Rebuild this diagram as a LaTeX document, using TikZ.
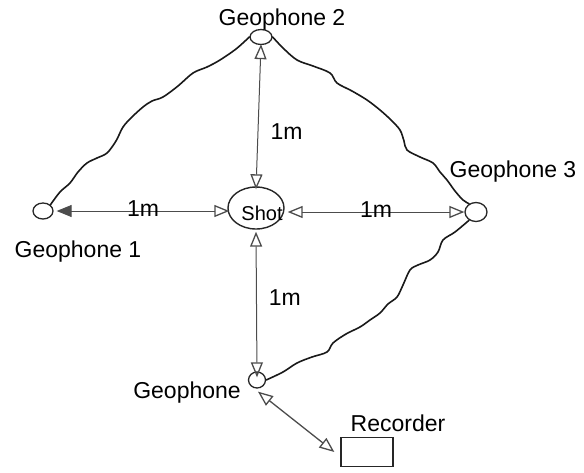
\documentclass[tikz,border=0pt]{standalone}
\usepackage{fontspec}
\setmainfont{Liberation Sans}
\usetikzlibrary{shapes.geometric,arrows.meta}

\begin{document}
\begin{tikzpicture}[x=1pt,y=-1pt,
  lbl/.style={font=\fontsize{23}{25}\selectfont, inner sep=0pt},
  phone/.style={draw=black!85, line width=1.3pt, ellipse, minimum width=20pt, minimum height=16pt, inner sep=0pt},
  shotnode/.style={draw=black!85, line width=1.4pt, ellipse, minimum width=56pt, minimum height=42pt, inner sep=0pt},
  dist/.style={draw=black!70, line width=1pt},
  otip/.tip={Triangle[open, length=15pt, width=12pt, line width=1.3pt]},
  ftip/.tip={Triangle[length=15pt, width=12pt]},
  cable/.style={draw=black!90, line width=1.6pt, line cap=round, line join=round},
]
\useasboundingbox (0,0) rectangle (584,472);

% receivers, source and recorder
\node[shotnode] (shot) at (256,208) {};
\node[lbl, font=\fontsize{20}{22}\selectfont] at (262,213) {Shot};
\node[phone] (g1) at (43,211) {};
\node[phone, minimum width=22pt, minimum height=15pt] (g2) at (261,37) {};
\node[phone, minimum width=22pt, minimum height=19pt] (g3) at (476,212) {};
\node[phone, minimum width=17pt, minimum height=16pt] (g4) at (257,380) {};
\node[draw=black!85, line width=1.3pt, minimum width=52pt, minimum height=29pt, inner sep=0pt] (rec) at (367,452) {};

% labels
\node[lbl] at (282,20) {Geophone 2};
\node[lbl] at (78,252) {Geophone 1};
\node[lbl] at (513,172) {Geophone 3};
\node[lbl] at (187,393) {Geophone};
\node[lbl] at (398,423) {Recorder};

% 1 m offsets from the shot
\draw[dist, {otip}-{otip}] ([yshift=1pt]g2.south) -- node[lbl, right=12pt, pos=0.6] {1m} ([yshift=-3pt]shot.north);
\draw[dist, {ftip}-{otip}] ([xshift=3pt]g1.east) -- node[lbl, above=-6pt] {1m} ([xshift=2pt]shot.west |- g1.east);
\draw[dist, {otip}-{otip}] ([xshift=3pt]shot.east |- g3.west) -- node[lbl, above=-6pt] {1m} (g3.west);
\draw[dist, {otip}-{otip}] ([yshift=-2pt]shot.south) -- node[lbl, right=12pt, pos=0.45] {1m} ([yshift=-6pt]g4.north);

% recorder lead
\draw[dist, line width=1.3pt, {otip}-{otip}] ([xshift=1pt,yshift=-3pt]g4.south) -- ([xshift=-6pt]rec.west);

% geophone cables
\draw[cable] plot[smooth, tension=0.55] coordinates {(g1.40) (60,192) (70,183) (78,172) (87,163) (97,158) (107,153) (116,141) (123,127) (132,117) (143,107) (152,101) (163,97) (178,86) (193,73) (207,67) (220,60) (236,49) (g2.west)};
\draw[cable] plot[smooth, tension=0.55] coordinates {(g2.east) (283,48) (297,60) (313,66) (330,73) (337,83) (352,91) (367,100) (380,110) (391,120) (400,130) (404,141) (407,150) (420,157) (433,163) (440,172) (447,180) (455,191) (463,200) (g3.130)};
\draw[cable] plot[smooth, tension=0.55] coordinates {(g3.230) (455,232) (443,240) (438,252) (430,260) (418,265) (410,270) (403,285) (397,297) (388,304) (380,313) (370,320) (360,327) (346,334) (333,343) (327,352) (312,357) (297,363) (283,372) (g4.east)};
\end{tikzpicture}
\end{document}
